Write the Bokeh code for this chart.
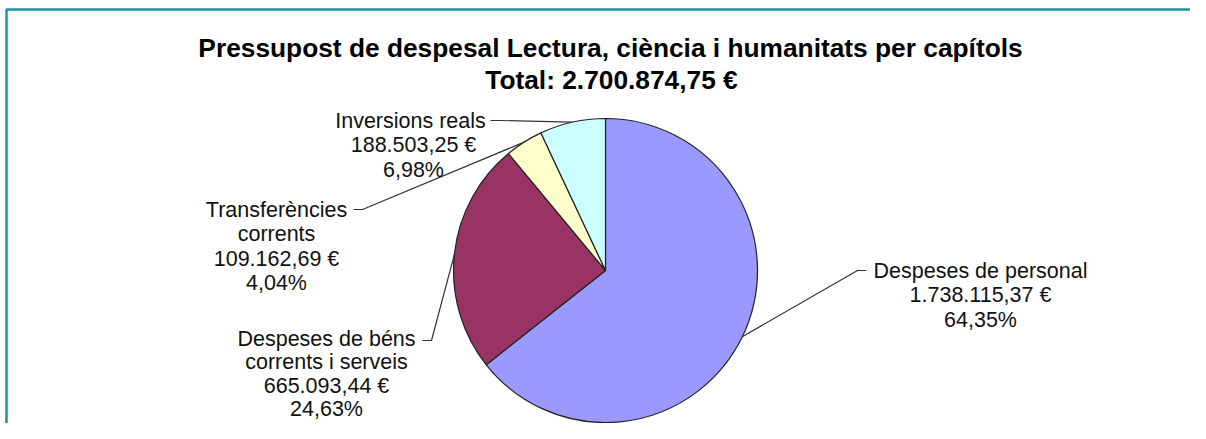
import math
from bokeh.plotting import figure
from bokeh.models import Range1d, ColumnDataSource
from bokeh.core.properties import value
from bokeh.embed import file_html
from bokeh.resources import INLINE

# ---- data ----
title_line1 = "Pressupost de despesal Lectura, ciència i humanitats per capítols"
title_line2 = "Total: 2.700.874,75 €"
chapters = ["Despeses de personal", "Despeses de béns corrents i serveis",
            "Transferències corrents", "Inversions reals"]
label_lines = [["Despeses de personal"],
               ["Despeses de béns", "corrents i serveis"],
               ["Transferències", "corrents"],
               ["Inversions  reals"]]
amounts = [1738115.37, 665093.44, 109162.69, 188503.25]
amount_labels = ["1.738.115,37 €", "665.093,44 €", "109.162,69 €", "188.503,25 €"]
pct_labels = ["64,35%", "24,63%", "4,04%", "6,98%"]
colors = ["#9999FF", "#993366", "#FFFFCC", "#CCFFFF"]

# ---- layout (image pixel coordinates) ----
W, H = 1190, 423
def Y(py):
    return H - py

cx, cy, R = 605, 270, 152
label_x = [980, 326, 276, 413]
label_y0 = [270, 338, 209, 120]
label_gap = [24.5, 23.5, 24.5, 24.5]
leader_anchor = [(866, 270), (422, 340), (353, 209), (490, 120)]
font = "Liberation Sans"

p = figure(width=W, height=H, output_backend="svg", toolbar_location=None,
           x_range=Range1d(0, W), y_range=Range1d(0, H),
           min_border=0, outline_line_color=None)
p.axis.visible = False
p.grid.visible = False
p.background_fill_color = "white"
p.border_fill_color = "white"

total = sum(amounts)
fr = [a / total for a in amounts]
cum = [0.0]
for f in fr:
    cum.append(cum[-1] + f)
starts = [math.pi / 2 - 2 * math.pi * cum[i + 1] for i in range(len(fr))]
ends = [math.pi / 2 - 2 * math.pi * cum[i] for i in range(len(fr))]

src = ColumnDataSource(dict(x=[cx] * len(fr), y=[Y(cy)] * len(fr),
                            start=starts, end=ends, color=colors))
p.wedge(x="x", y="y", radius=R, start_angle="start", end_angle="end",
        fill_color="color", line_color="#222222", line_width=1.2, source=src)

# leader lines
xs, ys = [], []
for i in range(len(fr)):
    mid = (cum[i] + cum[i + 1]) / 2 * 2 * math.pi
    ex = cx + R * math.sin(mid)
    ey = cy - R * math.cos(mid)
    ax, ay = leader_anchor[i]
    side = 1 if ax > cx else -1
    bx = ax - side * 9
    xs.append([ax, bx, ex])
    ys.append([Y(ay), Y(ay), Y(ey)])
p.multi_line(xs=xs, ys=ys, line_color="#333333", line_width=1.2)

# labels
tx, ty, tt = [], [], []
for i in range(len(fr)):
    lines = label_lines[i] + [amount_labels[i], pct_labels[i]]
    for k, t in enumerate(lines):
        tx.append(label_x[i])
        ty.append(Y(label_y0[i] + k * label_gap[i]))
        tt.append(t)
p.text(x=tx, y=ty, text=tt, text_font=value(font), text_font_size="21.5px",
       text_align="center", text_baseline="alphabetic", text_color="#111111")

# title
p.text(x=[610, 611], y=[Y(47), Y(79)], text=[title_line1, title_line2],
       text_font=value(font), text_font_size="26.3px", text_font_style="bold",
       text_align="center", text_baseline="alphabetic", text_color="black")

# frame border (top and left)
p.line(x=[6, 6, W], y=[0, Y(9), Y(9)], line_color="#1E93A3", line_width=2.5)

open("out.html", "w").write(file_html(p, INLINE))
